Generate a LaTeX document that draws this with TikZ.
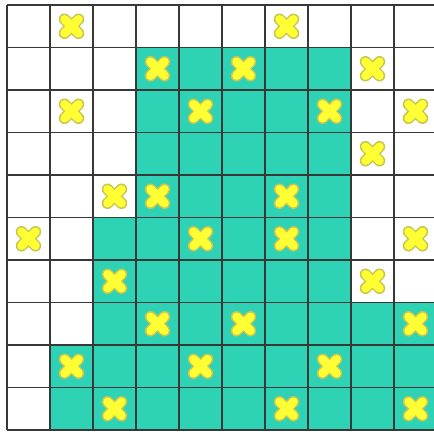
\documentclass[tikz,border=0pt]{standalone}
\usepackage{xcolor}
\usepackage{tikz}
\usetikzlibrary{calc}
\definecolor{gteal}{HTML}{2ED3B5}
\definecolor{gline}{HTML}{383838}
\definecolor{xfill}{HTML}{FFFF33}
\definecolor{xedge}{HTML}{C8C650}

\begin{document}
\begin{tikzpicture}[
  x=43pt,y=-42.5pt,
  cellfill/.style={fill=gteal},
  gridline/.style={draw=gline,line width=1.4pt},
  xedgeline/.style={draw=xedge,line width=11.5pt,line cap=round},
  xfillline/.style={draw=xfill,line width=8.5pt,line cap=round}]

  \useasboundingbox (-0.1628,-0.1176) rectangle (9.930,10.071);
  \clip (-0.1628,-0.1176) rectangle (9.930,10.071);

  % teal region, one row at a time: row/first/last column
  \foreach \r/\a/\b in {1/3/7,2/3/7,3/3/7,4/3/7,5/2/7,6/2/7,7/2/9,8/1/9,9/1/9}
    \fill[cellfill] (\a,\r) rectangle (\b+1,\r+1);

  % grid
  \foreach \i in {0,...,10}{
    \draw[gridline] (\i,0) -- (\i,10);
    \draw[gridline] (0,\i) -- (10,\i);
  }

  % crosses (column/row)
  \foreach \c/\r in {1/0,6/0,3/1,5/1,8/1,1/2,4/2,7/2,9/2,8/3,2/4,3/4,6/4,
                     0/5,4/5,6/5,9/5,2/6,8/6,3/7,5/7,9/7,1/8,4/8,7/8,2/9,6/9,9/9}{
    \coordinate (m) at (\c+0.5,\r+0.5);
    \draw[xedgeline] ($(m)+(-7pt,-7pt)$) -- ($(m)+(7pt,7pt)$)
                     ($(m)+(-7pt,7pt)$) -- ($(m)+(7pt,-7pt)$);
    \draw[xfillline] ($(m)+(-7pt,-7pt)$) -- ($(m)+(7pt,7pt)$)
                     ($(m)+(-7pt,7pt)$) -- ($(m)+(7pt,-7pt)$);
  }
\end{tikzpicture}
\end{document}
